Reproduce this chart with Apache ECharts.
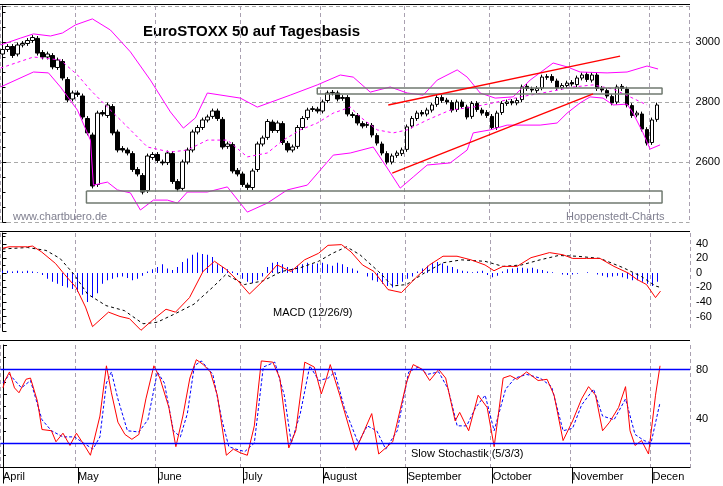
<!DOCTYPE html>
<html>
<head>
<meta charset="utf-8">
<script src="https://cdn.jsdelivr.net/npm/echarts@6/dist/echarts.min.js"></script>
<style>html,body{margin:0;padding:0;background:#fff}#chart{width:723px;height:486px}</style>
</head>
<body>
<div id="chart"></div>
<script>
var myChart = echarts.init(document.getElementById('chart'));

// trading days, month names sit on the first day of each month
var dayCount = 138;
var monthStart = {0: 'April', 15: 'May', 31: 'June', 48: 'July', 64: 'August', 81: 'September', 98: 'October', 114: 'November', 130: 'Decen'};

var opens = [2960,2975,2985,2960,2990,2995,3005,3012,2965,2950,
    2955,2915,2935,2875,2810,2830,2820,2745,2690,2525,
    2765,2755,2785,2700,2645,2640,2628,2575,2555,2505,
    2615,2625,2600,2598,2628,2535,2512,2600,2640,2700,
    2715,2740,2752,2770,2742,2652,2658,2572,2560,2523,
    2515,2575,2660,2682,2733,2705,2728,2662,2640,2652,
    2715,2748,2775,2776,2770,2805,2830,2830,2812,2815,
    2758,2755,2728,2722,2722,2688,2660,2628,2600,2622,
    2628,2642,2720,2745,2765,2760,2773,2792,2815,2806,
    2798,2775,2800,2783,2752,2795,2773,2765,2752,2715,
    2765,2795,2802,2797,2808,2852,2843,2838,2847,2882,
    2885,2870,2848,2855,2865,2858,2880,2892,2873,2890,
    2845,2838,2818,2800,2852,2843,2788,2757,2760,2708,
    2665,2742];
var closes = [2975,2985,2955,2990,2995,3005,3015,2963,2950,2960,
    2917,2940,2880,2807,2830,2825,2750,2697,2520,2763,
    2760,2790,2697,2640,2640,2630,2575,2560,2500,2620,
    2625,2605,2597,2630,2535,2510,2600,2640,2700,2715,
    2740,2750,2770,2745,2650,2660,2570,2560,2525,2515,
    2570,2660,2680,2735,2705,2730,2665,2640,2650,2715,
    2745,2773,2778,2770,2800,2830,2832,2810,2815,2760,
    2755,2730,2720,2725,2690,2663,2630,2600,2620,2630,
    2640,2717,2745,2763,2760,2773,2790,2815,2805,2800,
    2773,2800,2785,2750,2795,2775,2763,2755,2715,2763,
    2795,2800,2797,2805,2850,2845,2840,2845,2883,2885,
    2872,2847,2855,2863,2860,2880,2890,2875,2890,2845,
    2840,2820,2797,2850,2845,2790,2755,2763,2710,2663,
    2740,2790];

// Bollinger bands [day, value]
var bandUpper = [[-0.4,2990],[3.6,3013],[6.2,3027],[9.6,3020],[12,3030],[14.6,3057],[18,3077],[21.6,3040],[25.6,2967],[29.6,2873],[33.6,2767],[36.2,2713],[38.6,2747],[41,2830],[47.6,2813],[51,2783],[57.6,2823],[63,2857],[67.6,2890],[70.2,2883],[73.6,2833],[77.6,2850],[81,2830],[84.2,2823],[87,2873],[91,2907],[93,2883],[95.6,2830],[98.6,2813],[102.2,2817],[105.6,2873],[110.2,2930],[113,2917],[115.6,2900],[121,2897],[125,2900],[129,2920],[131.2,2910]];
var bandLower = [[-0.4,2850],[6.2,2900],[9.2,2897],[11.6,2850],[15,2773],[17.6,2673],[18.2,2523],[21,2533],[23,2507],[25.6,2497],[27.6,2440],[30.2,2473],[33,2473],[35,2463],[37,2500],[41,2500],[45,2517],[49,2433],[53,2463],[57,2507],[61,2523],[63.6,2573],[66.2,2623],[69.6,2630],[74.2,2650],[77,2580],[79.6,2513],[82.2,2550],[85,2590],[89.6,2597],[93,2640],[94.2,2697],[97.6,2707],[101,2723],[107.6,2723],[111,2730],[113,2763],[115.6,2797],[117.6,2817],[120.2,2813],[122.2,2790],[125,2793],[126.2,2763],[128.2,2697],[129.6,2643],[131.6,2657]];
var bandMid = [[-0.4,2913],[6.2,2950],[11.6,2940],[15,2890],[17.6,2840],[21,2783],[25,2717],[29,2650],[33.6,2633],[37,2640],[41,2673],[45,2673],[49,2617],[53,2630],[56.2,2673],[59.6,2707],[63,2730],[66.2,2763],[69.6,2783],[71.6,2750],[75,2707],[78.2,2697],[81,2707],[85,2740],[89.6,2773],[94.2,2783],[99,2800],[103.6,2817],[109,2833],[114.2,2850],[118.2,2857],[122.2,2843],[125.6,2817],[129,2790]];
var trendUpper = [[77.2,2790],[123.6,2953]];
var trendLower = [[78,2563],[118.2,2827]];
var boxTop = [[63,2847],[132,2827]];
var boxBottom = [[16.8,2503],[132,2463]];

var macdLine = [[0,34],[1.3,36],[5,36],[6,37],[7.8,29],[10.6,13],[12.4,-2],[14.7,-20],[16.6,-47],[18,-74],[21.2,-54],[23.5,-60],[25.4,-63],[27.7,-79],[30,-65],[32.7,-50],[34.6,-54],[37.4,-34],[40.1,2],[42.4,16],[44.7,5],[47.1,-11],[49.4,-29],[52.1,-11],[54.9,11],[57.7,2],[60.4,18],[63.2,27],[65.1,38],[67.8,39],[69.7,29],[72,11],[74.3,2],[77.1,-23],[79.8,-27],[82.6,-7],[85.4,11],[88.1,23],[90.9,23],[93.7,18],[96.5,11],[98.3,3],[100.1,9],[102.9,9],[105.7,21],[109.4,28],[112.1,25],[114,20],[116.8,20],[119.5,20],[122.3,9],[125.1,0],[126.9,-9],[128.8,-16],[130.6,-34],[131.6,-25]];
var macdSignal = [[0,33],[5,35],[8.7,31],[11.5,20],[14.3,-2],[17,-29],[20.7,-45],[24.4,-52],[28.1,-70],[30.9,-68],[34.6,-56],[38.3,-43],[42,-20],[44.7,-2],[48.4,-16],[52.1,-11],[55.8,2],[59.5,7],[63.2,16],[66,27],[68.8,36],[71.5,25],[75.2,2],[78,-18],[80.8,-16],[84.4,0],[88.1,14],[91.8,18],[96.5,16],[100.1,9],[103.8,11],[107.5,18],[111.2,24],[114.9,23],[119.5,20],[124.2,7],[127.8,-5],[130.6,-18],[131.6,-20]];
var macdHist = [3,3,2,3,2,3,2,1,
    -3,-8,-12,-15,-18,-20,-22,
    -26,-30,-40,-34,-28,
    -15,-10,-8,-6,-5,-7,-10,-8,-4,
    2,5,8,12,6,4,
    8,15,20,25,28,26,25,22,12,
    8,5,2,-3,
    -8,-12,-14,-10,-5,
    8,14,15,12,8,
    6,10,12,14,12,13,14,12,10,
    14,12,8,6,3,0,
    -5,-10,-12,-15,-18,-20,-16,-12,
    -8,-5,2,
    6,10,14,15,13,10,8,
    5,3,2,1,2,3,
    -3,-6,-4,
    2,5,6,7,7,6,7,5,4,
    2,1,0,-2,-3,-2,-1,0,1,0,-2,-4,-6,-5,
    -4,-6,-8,-10,-10,-12,-15,-18,-12];

var stochK = [[0,65],[0.4,71],[1.3,78],[2.3,65],[3.2,61],[4.6,72],[5.5,73],[6.9,54],[7.8,31],[9.7,30],[10.6,21],[12,28],[13.4,18],[14.7,28],[16.6,16],[17.5,10],[19.4,42],[20.7,83],[21.7,61],[23,37],[24.4,27],[25.8,23],[27.2,27],[28.6,56],[30.2,83],[31.4,73],[33.2,49],[34.6,17],[36,42],[37.4,73],[38.7,88],[40.1,84],[41.5,78],[42.9,59],[44.7,10],[46.1,15],[47.5,12],[48.9,10],[50.3,34],[51.7,87],[54,86],[55.4,73],[57.2,16],[58.6,30],[60.4,86],[62.3,82],[63.7,60],[64.6,71],[65.5,84],[67.4,59],[70.6,14],[72.4,31],[73.8,44],[75.2,11],[78,21],[80.8,70],[82.1,84],[84,80],[85.4,71],[87.2,80],[88.6,73],[90.5,38],[91.4,45],[93.2,30],[95.1,59],[96.9,49],[98.3,17],[100.1,73],[101.5,75],[102.9,72],[104.8,78],[107.1,71],[108.9,72],[110.3,59],[112.1,22],[114,38],[115.8,56],[117.2,66],[118.6,59],[120,30],[121.4,37],[123.2,49],[124.6,66],[125.5,30],[126.5,18],[127.8,22],[129.2,11],[130.6,59],[131.5,83]];
var stochD = [[0,69],[1.3,76],[3.7,65],[5.5,71],[7.8,39],[9.7,30],[12,25],[14.3,25],[16.1,20],[18,15],[19.4,25],[20.7,69],[21.7,78],[23,56],[24.9,30],[27.2,29],[29,39],[30.9,78],[32.3,69],[34.1,30],[35.5,25],[36.9,44],[38.3,83],[39.7,87],[42,76],[43.8,39],[45.2,17],[46.6,15],[48.4,13],[50.3,20],[52.1,82],[54.4,86],[56.3,59],[57.7,20],[59.5,44],[61.4,83],[63.2,71],[65.1,73],[66.4,78],[68.3,49],[71.1,20],[72.9,34],[74.8,30],[76.6,15],[78.9,30],[81.2,78],[83.1,82],[84.9,76],[87.2,78],[89.1,64],[90.9,34],[92.8,34],[94.6,49],[96.5,59],[98.3,30],[100.6,64],[102.5,73],[104.8,76],[107.5,73],[109.8,66],[112.1,30],[114,32],[115.8,51],[118.2,64],[120,42],[122.3,39],[124.6,56],[126.5,27],[128.3,22],[129.7,20],[131.5,53]];

var priceLabels = [2600, 2800, 3000];
var macdLabels = [-60, -40, -20, 0, 20, 40];
var stochLabels = [40, 80];
var stochLevels = [20, 80];

var days = [];
for (var i = 0; i < dayCount; i++) days.push(monthStart[i] || '');
var candles = [];
for (var i = 0; i < closes.length; i++) {
    var o = opens[i], c = closes[i];
    candles.push([o, c, Math.min(o, c) - 8, Math.max(o, c) + 8]);
}
var isMonth = function (idx) { return monthStart[idx] !== undefined; };

var grids = [
    {left: 0, right: 33, top: 6, height: 216},
    {left: 0, right: 33, top: 233, height: 98},
    {left: 0, right: 33, top: 345, bottom: 18.5}
];
var xAxes = [];
var yAxes = [];
for (var g = 0; g < 3; g++) {
    xAxes.push({
        type: 'category', gridIndex: g, data: days, boundaryGap: true,
        axisLine: {show: g == 2, lineStyle: {color: '#000'}},
        axisTick: {show: g == 2, alignWithLabel: true, interval: function (idx) { return isMonth(idx); }, length: 16, inside: false, lineStyle: {color: '#000'}},
        axisLabel: {show: g == 2, interval: function (idx) { return isMonth(idx); }, align: 'left', margin: 4, color: '#000', fontSize: 11, fontFamily: 'Liberation Sans'},
        splitLine: {show: true, interval: function (idx) { return isMonth(idx); }, lineStyle: {color: '#a9a0b0', type: [4, 3]}}
    });
    xAxes.push({type: 'value', gridIndex: g, min: -0.5, max: dayCount - 0.5, show: false});
}
var yBase = {
    type: 'value', position: 'right',
    axisLine: {show: true, lineStyle: {color: '#000'}},
    axisTick: {show: true, length: 4, lineStyle: {color: '#000'}},
    minorTick: {show: true, length: 3, lineStyle: {color: '#000'}},
    minorSplitLine: {show: false},
    axisLabel: {color: '#000', fontSize: 11, fontFamily: 'Liberation Sans', margin: 6}
};
function showOnly(list) { return function (v) { return list.indexOf(v) >= 0 ? String(v) : ''; }; }
yAxes.push(echarts.util.merge({gridIndex: 0, min: 2400, max: 3120, interval: 200,
    axisLabel: {formatter: showOnly(priceLabels)},
    minorTick: {splitNumber: 4},
    splitLine: {show: true, lineStyle: {color: '#a9a9a9', type: [4, 3]}}}, yBase, false));
yAxes.push(echarts.util.merge({gridIndex: 1, min: -80, max: 55, interval: 20,
    axisLabel: {formatter: showOnly(macdLabels)},
    minorTick: {splitNumber: 2},
    splitLine: {show: false}}, yBase, false));
yAxes.push(echarts.util.merge({gridIndex: 2, min: 0, max: 100, interval: 20,
    axisLabel: {formatter: showOnly(stochLabels)},
    minorTick: {splitNumber: 2},
    splitLine: {show: false}}, yBase, false));

function line(data, xi, yi, color, type, width) {
    return {type: 'line', xAxisIndex: xi, yAxisIndex: yi, data: data, symbol: 'none', silent: true,
        lineStyle: {color: color, width: width || 1, type: type || 'solid'}, animation: false};
}
function box(data) {
    return {type: 'line', xAxisIndex: 1, yAxisIndex: 0, symbol: 'none', silent: true, animation: false,
        data: [[data[0][0], data[0][1]], [data[1][0], data[0][1]], [data[1][0], data[1][1]], [data[0][0], data[1][1]], [data[0][0], data[0][1]]],
        lineStyle: {color: '#707a70', width: 1.5}};
}

var series = [
    line(bandUpper, 1, 0, '#ff00ff'),
    line(bandLower, 1, 0, '#ff00ff'),
    line(bandMid, 1, 0, '#ff00ff', [3, 3]),
    box(boxTop),
    box(boxBottom),
    {type: 'candlestick', xAxisIndex: 0, yAxisIndex: 0, data: candles, barWidth: 4, animation: false,
        itemStyle: {color: '#fff', color0: '#000', borderColor: '#000', borderColor0: '#000', borderWidth: 1}},
    line(trendUpper, 1, 0, '#ff0000', 'solid', 1.3),
    line(trendLower, 1, 0, '#ff0000', 'solid', 1.3),
    {type: 'bar', xAxisIndex: 2, yAxisIndex: 1, data: macdHist, barWidth: 1, animation: false, itemStyle: {color: '#0000ff'}},
    line(macdSignal, 3, 1, '#000', [3, 3]),
    line(macdLine, 3, 1, '#ff0000'),
    {type: 'line', xAxisIndex: 5, yAxisIndex: 2, data: [], symbol: 'none', animation: false,
        markLine: {silent: true, symbol: 'none', label: {show: false}, lineStyle: {color: '#0000ff', type: 'solid', width: 1.3},
            data: stochLevels.map(function (v) { return {yAxis: v}; })}},
    line(stochD, 5, 2, '#0000ff', [3, 2]),
    line(stochK, 5, 2, '#ff0000')
];

option = {
    backgroundColor: '#fff',
    animation: false,
    grid: grids,
    xAxis: xAxes,
    yAxis: yAxes,
    series: series,
    graphic: [
        {type: 'line', shape: {x1: 0, y1: 4.5, x2: 690, y2: 4.5}, style: {stroke: '#000', lineWidth: 1}},
        {type: 'line', shape: {x1: 0, y1: 231.5, x2: 690, y2: 231.5}, style: {stroke: '#000', lineWidth: 1}},
        {type: 'line', shape: {x1: 0, y1: 340.5, x2: 690, y2: 340.5}, style: {stroke: '#000', lineWidth: 1}},
        {type: 'text', left: 143, top: 24, style: {text: 'EuroSTOXX 50 auf Tagesbasis', font: 'bold 15px "Liberation Sans"', fill: '#000'}},
        {type: 'text', left: 13, top: 211, style: {text: 'www.chartbuero.de', font: '11px "Liberation Sans"', fill: '#7f7f8f'}},
        {type: 'text', left: 566, top: 211, style: {text: 'Hoppenstedt-Charts', font: '11px "Liberation Sans"', fill: '#7f7f8f'}},
        {type: 'text', left: 273, top: 307, style: {text: 'MACD (12/26/9)', font: '11px "Liberation Sans"', fill: '#000'}},
        {type: 'text', left: 411, top: 448, style: {text: 'Slow Stochastik (5/3/3)', font: '11px "Liberation Sans"', fill: '#000', backgroundColor: '#fff'}}
    ]
};
myChart.setOption(option);
</script>
</body>
</html>
